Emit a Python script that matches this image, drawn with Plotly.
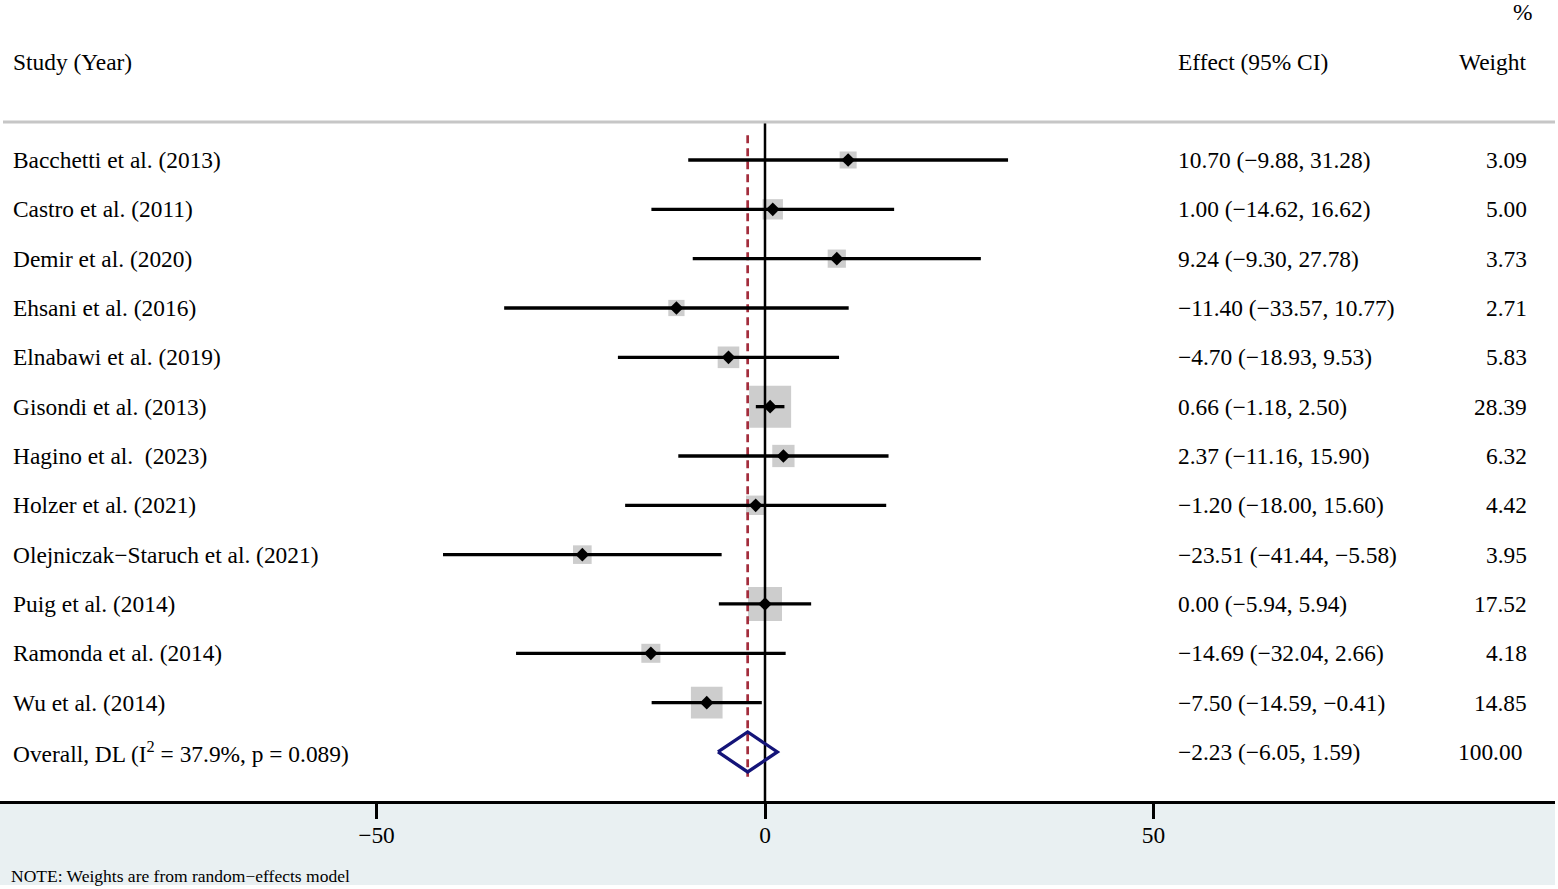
import math
import plotly.graph_objects as go

# ---------------- data ----------------
studies = [
    "Bacchetti et al. (2013)",
    "Castro et al. (2011)",
    "Demir et al. (2020)",
    "Ehsani et al. (2016)",
    "Elnabawi et al. (2019)",
    "Gisondi et al. (2013)",
    "Hagino et al.\u00a0 (2023)",
    "Holzer et al. (2021)",
    "Olejniczak\u2212Staruch et al. (2021)",
    "Puig et al. (2014)",
    "Ramonda et al. (2014)",
    "Wu et al. (2014)",
]
effects = [10.70, 1.00, 9.24, -11.40, -4.70, 0.66, 2.37, -1.20, -23.51, 0.00, -14.69, -7.50]
ci_low = [-9.88, -14.62, -9.30, -33.57, -18.93, -1.18, -11.16, -18.00, -41.44, -5.94, -32.04, -14.59]
ci_high = [31.28, 16.62, 27.78, 10.77, 9.53, 2.50, 15.90, 15.60, -5.58, 5.94, 2.66, -0.41]
weights = [3.09, 5.00, 3.73, 2.71, 5.83, 28.39, 6.32, 4.42, 3.95, 17.52, 4.18, 14.85]

overall_label = "Overall, DL (I<sup>2</sup> = 37.9%, p = 0.089)"
overall_effect = -2.23
overall_low = -6.05
overall_high = 1.59
overall_weight = 100.00

x_tick_vals = [-50, 0, 50]
x_tick_text = ["\u221250", "0", "50"]

header_study = "Study (Year)"
header_effect = "Effect (95% CI)"
header_weight = "Weight"
header_pct = "%"
note_text = "NOTE: Weights are from random\u2212effects model"

# ---------------- layout geometry ----------------
W, H = 1558, 889
ML, MR, MT, MB = 0, 3, 122, 88
PPU = 7.77          # pixels per effect unit
ZERO_PX = 765       # pixel position of effect 0
ROW0_PX = 160       # pixel position of first row
ROW_STEP = 49.33    # pixels between rows

plot_w = W - ML - MR
plot_h = H - MT - MB
x_range = [(ML - ZERO_PX) / PPU, (W - MR - ZERO_PX) / PPU]
y_top = (MT - ROW0_PX) / ROW_STEP
y_bot = (H - MB - ROW0_PX) / ROW_STEP


def px_x(px):
    return (px - ML) / plot_w


def px_y(py):
    return (H - MB - py) / plot_h


FONT = "Liberation Serif, Times New Roman, serif"
FS = 23.4
NAVY = "#141478"
RED = "#A32D3C"


def fmt(v):
    return f"{v:.2f}".replace("-", "\u2212")


rows = list(range(len(studies)))
overall_row = len(studies)

fig = go.Figure()

# weight squares
fig.add_trace(go.Scatter(
    x=effects, y=rows, mode="markers",
    marker=dict(symbol="square", color="#B8B8B8",
                size=[4.7 + 7.0 * math.sqrt(w) for w in weights],
                line=dict(width=0)),
    hoverinfo="skip", showlegend=False))

# null line
fig.add_trace(go.Scatter(
    x=[0, 0], y=[y_top, y_bot], mode="lines",
    line=dict(color="black", width=2.5), hoverinfo="skip", showlegend=False))

# overall effect dashed line
fig.add_trace(go.Scatter(
    x=[overall_effect, overall_effect], y=[-0.5, overall_row + 0.5], mode="lines",
    line=dict(color=RED, width=2.7, dash="8px,5px"), hoverinfo="skip", showlegend=False))

# CI lines
cx, cy = [], []
for lo, hi, r in zip(ci_low, ci_high, rows):
    cx += [lo, hi, None]
    cy += [r, r, None]
fig.add_trace(go.Scatter(
    x=cx, y=cy, mode="lines", line=dict(color="black", width=3.3),
    hoverinfo="skip", showlegend=False))

# point estimates
fig.add_trace(go.Scatter(
    x=effects, y=rows, mode="markers",
    marker=dict(symbol="diamond", color="black", size=10.5, line=dict(width=0)),
    hoverinfo="skip", showlegend=False))

# overall diamond
dh = 0.405
fig.add_trace(go.Scatter(
    x=[overall_low, overall_effect, overall_high, overall_effect, overall_low],
    y=[overall_row, overall_row - dh, overall_row, overall_row + dh, overall_row],
    mode="lines", line=dict(color=NAVY, width=3.3),
    hoverinfo="skip", showlegend=False))

annotations = []


def add_text(text, x, y, xanchor, yref="y", size=FS):
    annotations.append(dict(
        text=text, x=x, y=y, xref="paper", yref=yref, xanchor=xanchor,
        yanchor="middle", showarrow=False,
        font=dict(family=FONT, size=size, color="black")))


for r, name, e, lo, hi, w in zip(rows, studies, effects, ci_low, ci_high, weights):
    add_text(name, px_x(11), r, "left")
    add_text(f"{fmt(e)} ({fmt(lo)}, {fmt(hi)})", px_x(1176), r, "left")
    add_text(f"{w:.2f}", px_x(1529), r, "right")

add_text(overall_label, px_x(11), overall_row, "left")
add_text(f"{fmt(overall_effect)} ({fmt(overall_low)}, {fmt(overall_high)})", px_x(1176), overall_row, "left")
add_text(f"{overall_weight:.2f}", px_x(1524), overall_row, "right")

add_text(header_study, px_x(11), px_y(62), "left", yref="paper")
add_text(header_effect, px_x(1176), px_y(62), "left", yref="paper")
add_text(header_weight, px_x(1528), px_y(62), "right", yref="paper")
add_text(header_pct, px_x(1535), px_y(12), "right", yref="paper")
add_text(note_text, px_x(9), px_y(876), "left", yref="paper", size=17.5)

shapes = [
    dict(type="rect", xref="paper", yref="paper", x0=0, x1=1,
         y0=px_y(885), y1=0, fillcolor="#E9F0F2", line=dict(width=0), layer="below"),
    dict(type="line", xref="paper", yref="paper", x0=px_x(3), x1=1,
         y0=1, y1=1, line=dict(color="#C6C6C6", width=3), layer="above"),
]

fig.update_layout(
    width=W, height=H,
    margin=dict(l=ML, r=MR, t=MT, b=MB, pad=0),
    paper_bgcolor="white", plot_bgcolor="white",
    showlegend=False,
    annotations=annotations, shapes=shapes,
    xaxis=dict(range=x_range, tickvals=x_tick_vals, ticktext=x_tick_text,
               showgrid=False, zeroline=False, showline=True, linecolor="black",
               linewidth=3, ticks="outside", ticklen=15, tickwidth=2.5,
               tickcolor="black", tickfont=dict(family=FONT, size=FS, color="black"),
               ticklabelstandoff=-4, fixedrange=True),
    yaxis=dict(range=[y_bot, y_top], visible=False, fixedrange=True),
)

fig.write_html("out.html", config={"displayModeBar": False},
               post_script="document.body.style.margin='0';document.body.style.overflow='hidden';")
